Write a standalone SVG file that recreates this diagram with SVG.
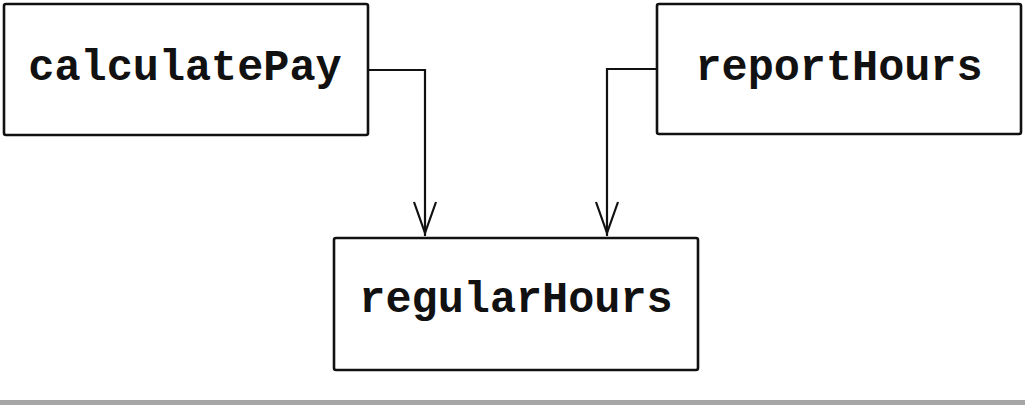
<svg xmlns="http://www.w3.org/2000/svg" width="1025" height="405" viewBox="0 0 1025 405">
<style>
.box{fill:#fff;stroke:#111;stroke-width:2.6}
.lbl{font-family:"Liberation Mono","Courier New",monospace;font-weight:bold;font-size:43.5px;fill:#111;text-anchor:middle}
.conn{fill:none;stroke:#111;stroke-width:2.2}
</style>
<rect width="1025" height="405" fill="#fff"/>
<rect x="0" y="400" width="1025" height="5" fill="#a6a6a6"/>
<g id="calculatePay">
<rect class="box" x="4" y="4" width="364" height="131" rx="2"/>
<text class="lbl" x="185" y="80">calculatePay</text>
</g>
<g id="reportHours">
<rect class="box" x="657" y="4" width="364" height="130" rx="2"/>
<text class="lbl" x="839" y="80">reportHours</text>
</g>
<g id="regularHours">
<rect class="box" x="334" y="238" width="364" height="132" rx="2"/>
<text class="lbl" x="516" y="312">regularHours</text>
</g>
<g id="connectors">
<path class="conn" d="M368 70 H425 V236"/>
<path class="conn" d="M414 202 L425 233 L436 202"/>
<path class="conn" d="M657 69 H607 V236"/>
<path class="conn" d="M596 202 L607 233 L618 202"/>
</g>
</svg>
